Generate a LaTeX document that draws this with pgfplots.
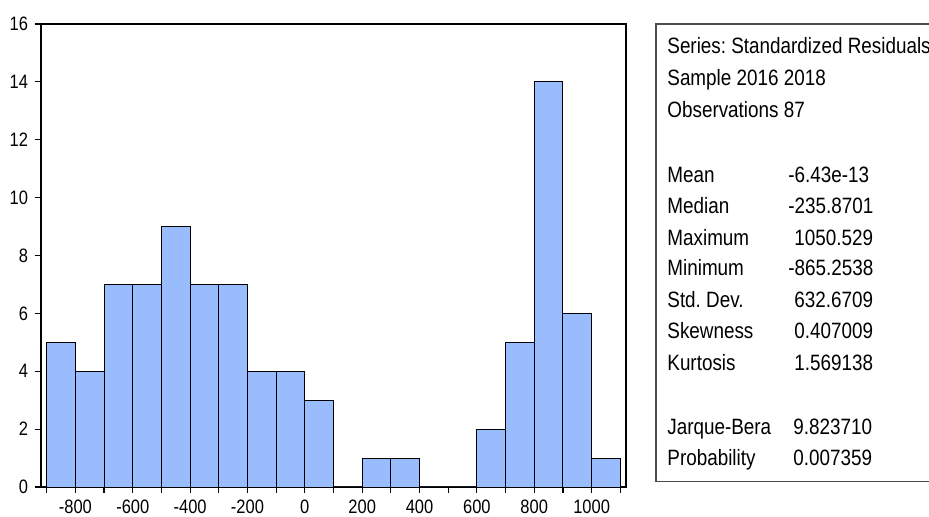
\documentclass[border=0pt]{standalone}
\usepackage{pgfplots}
\pgfplotsset{compat=1.18}
\usepackage{fontspec}
\setmainfont{Liberation Sans}[FakeStretch=0.85]
\definecolor{barblue}{RGB}{153,188,255}
\frenchspacing
\begin{document}
\begin{tikzpicture}
\clip (0,0) rectangle (464.5pt,258.5pt);
\begin{axis}[
  at={(20.5pt,15pt)}, anchor=south west,
  scale only axis, width=292.5pt, height=231.5pt,
  xmin=-920, xmax=1120, ymin=0, ymax=16,
  axis line style={line width=0.75pt},
  xtick={-800,-600,...,1000},
  minor xtick={-900,-700,...,1100},
  ytick={0,2,...,16},
  tick align=outside,
  major tick length=3pt, minor tick length=3pt,
  xtick pos=bottom, ytick pos=left,
  tick style={black, line width=0.6pt},
  ticklabel style={font=\fontsize{9.7}{11}\selectfont},
  /pgf/number format/assume math mode=true,
  /pgf/number format/1000 sep={},
  clip=false,
]
\addplot[ybar interval, fill=barblue, draw=black, line width=0.45pt] coordinates {
(-900,5) (-800,4) (-700,7) (-600,7) (-500,9) (-400,7) (-300,7) (-200,4) (-100,4) (0,3)
(100,0) (200,1) (300,1) (400,0) (500,0) (600,2) (700,5) (800,14) (900,6) (1000,1) (1100,1)
};
\end{axis}
\draw[line width=0.6pt, draw=black!70] (328pt,17.75pt) rectangle (480pt,246.5pt);
\begin{scope}[every node/.style={inner sep=0pt, anchor=base west, font=\fontsize{11.1}{13}\selectfont}]
\node at (333.5pt,{(517-54)*0.5pt}) {Series: Standardized Residuals};
\node at (333.5pt,{(517-86)*0.5pt}) {Sample 2016 2018};
\node at (333.5pt,{(517-118)*0.5pt}) {Observations 87};
\node at (333.5pt,{(517-183)*0.5pt}) {Mean};
\node at (333.5pt,{(517-214)*0.5pt}) {Median};
\node at (333.5pt,{(517-246)*0.5pt}) {Maximum};
\node at (333.5pt,{(517-276)*0.5pt}) {Minimum};
\node at (333.5pt,{(517-308)*0.5pt}) {Std. Dev.};
\node at (333.5pt,{(517-339)*0.5pt}) {Skewness};
\node at (333.5pt,{(517-371)*0.5pt}) {Kurtosis};
\node at (333.5pt,{(517-435)*0.5pt}) {Jarque-Bera};
\node at (333.5pt,{(517-466)*0.5pt}) {Probability};
\node at (394pt,{(517-183)*0.5pt}) {-6.43e-13};
\node at (394pt,{(517-214)*0.5pt}) {-235.8701};
\node at (397pt,{(517-246)*0.5pt}) {1050.529};
\node at (394pt,{(517-276)*0.5pt}) {-865.2538};
\node at (397pt,{(517-308)*0.5pt}) {632.6709};
\node at (397pt,{(517-339)*0.5pt}) {0.407009};
\node at (397pt,{(517-371)*0.5pt}) {1.569138};
\node at (396.5pt,{(517-435)*0.5pt}) {9.823710};
\node at (396.5pt,{(517-466)*0.5pt}) {0.007359};
\end{scope}
\end{tikzpicture}
\end{document}
